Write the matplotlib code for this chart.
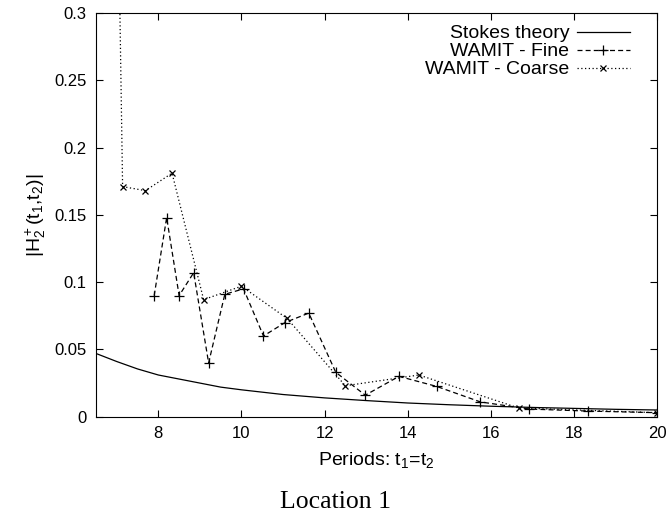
import numpy as np
import matplotlib
matplotlib.use('Agg')
import matplotlib.pyplot as plt

plt.rcParams['font.family'] = 'Liberation Sans'
plt.rcParams['mathtext.fontset'] = 'custom'
plt.rcParams['mathtext.rm'] = 'Liberation Sans'
plt.rcParams['mathtext.it'] = 'Liberation Sans'

# Stokes theory
stokes_t = [6.5, 7, 7.5, 8, 8.5, 9, 9.5, 10, 11, 12, 13, 14, 15, 16, 17, 18, 19, 20]
stokes_h = [0.047, 0.041, 0.0355, 0.031, 0.028, 0.025, 0.022, 0.020, 0.0165, 0.014,
            0.012, 0.0102, 0.0089, 0.0078, 0.0069, 0.0062, 0.0055, 0.005]

# WAMIT - Fine
fine_t = [7.9, 8.2, 8.5, 8.85, 9.21, 9.6, 10.05, 10.53, 11.05, 11.62, 12.27, 12.98,
          13.79, 14.7, 15.75, 16.92, 18.34, 20.0]
fine_h = [0.090, 0.148, 0.090, 0.107, 0.040, 0.091, 0.095, 0.060, 0.070, 0.077, 0.033,
          0.016, 0.030, 0.0225, 0.011, 0.0057, 0.0042, 0.003]

# WAMIT - Coarse
coarse_t = [7.0, 7.14, 7.69, 8.33, 9.09, 10.0, 11.1, 12.5, 14.27, 16.67, 20.0]
coarse_h = [0.45, 0.171, 0.168, 0.181, 0.087, 0.097, 0.073, 0.023, 0.031, 0.0065, 0.003]

fig = plt.figure(figsize=(6.7, 5.16), dpi=100)
ax = fig.add_axes([0.1433, 0.1924, 0.8373, 0.7824])

ax.plot(stokes_t, stokes_h, '-', color='black', lw=0.9, label='Stokes theory')
ax.plot(fine_t, fine_h, '--', color='black', lw=0.9, marker='+', ms=7, mew=0.9,
        dashes=(4, 2.5), label='WAMIT - Fine')
ax.plot(coarse_t, coarse_h, ':', color='black', lw=0.9, marker='x', ms=5, mew=0.9,
        dashes=(1, 2), label='WAMIT - Coarse')

ax.set_xlim(6.5, 20)
ax.set_ylim(0, 0.3)
ax.set_xticks([8, 10, 12, 14, 16, 18, 20])
ax.set_yticks([0, 0.05, 0.1, 0.15, 0.2, 0.25, 0.3])
ax.set_yticklabels(['0', '0.05', '0.1', '0.15', '0.2', '0.25', '0.3'])
ax.tick_params(direction='in', top=True, right=True, length=5, width=0.8,
               labelsize=12, pad=7)
for s in ax.spines.values():
    s.set_linewidth(0.8)

ax.set_xlabel('Periods: t$_1$=t$_2$', fontsize=14, labelpad=6)
ax.set_ylabel('|H$_2^+$(t$_1$,t$_2$)|', fontsize=14, labelpad=4)

leg = ax.legend(loc='upper right', frameon=False, markerfirst=False, fontsize=14,
                handlelength=2.7, handletextpad=0.4, labelspacing=0.02,
                borderaxespad=0.0, bbox_to_anchor=(0.965, 0.99))

fig.text(0.5, 0.016, 'Location 1', ha='center', va='baseline',
         family='Liberation Serif', fontsize=18.5)

fig.savefig('out.png', dpi=100)
